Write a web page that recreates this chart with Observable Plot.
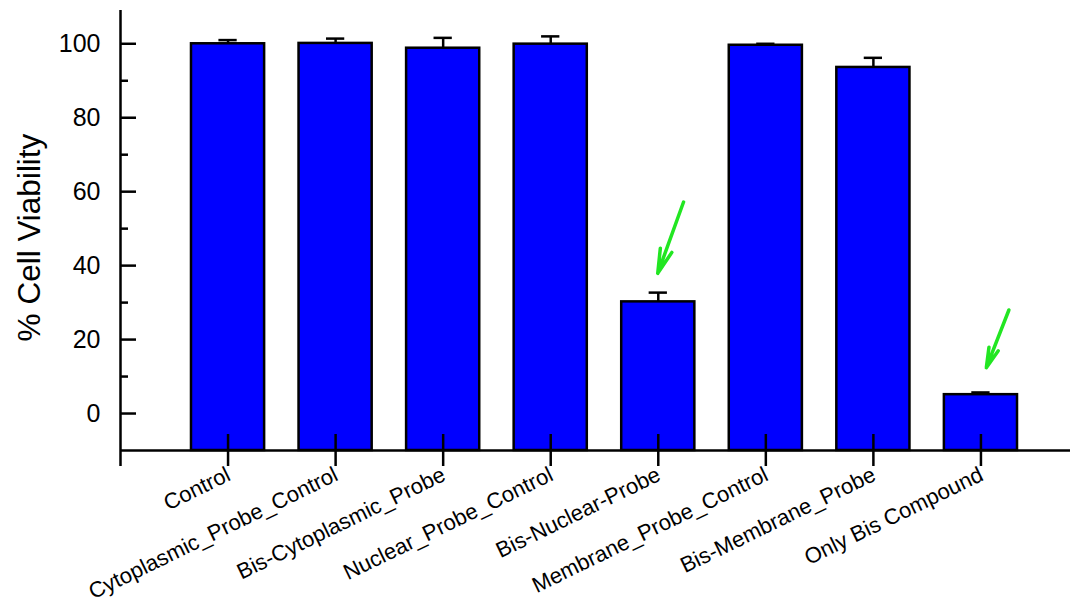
<!DOCTYPE html>
<html>
<head>
<meta charset="utf-8">
<script src="https://cdn.jsdelivr.net/npm/d3@7"></script>
<script src="https://cdn.jsdelivr.net/npm/@observablehq/plot@0.6"></script>
<style>
  html, body { margin: 0; padding: 0; background: #fff; }
  #chart svg { display: block; }
</style>
</head>
<body>
<div id="chart"></div>
<script>
const categories = [
  "Control",
  "Cytoplasmic_Probe_Control",
  "Bis-Cytoplasmic_Probe",
  "Nuclear_Probe_Control",
  "Bis-Nuclear-Probe",
  "Membrane_Probe_Control",
  "Bis-Membrane_Probe",
  "Only Bis Compound"
];
const viability = [100.0, 100.1, 98.8, 99.9, 30.2, 99.6, 93.6, 5.1];
const errors = [1.0, 1.3, 2.8, 2.1, 2.5, 0.4, 2.6, 0.6];
const yMajorTicks = [0, 20, 40, 60, 80, 100];
const yMinorTicks = [10, 30, 50, 70, 90];
const yLabel = "% Cell Viability";
// arrows (x in category index units, y in % units)
const arrowX1 = [4.235, 7.26];
const arrowY1 = [57.2, 28.0];
const arrowX2 = [3.995, 7.05];
const arrowY2 = [37.9, 12.4];

const data = categories.map((name, i) => ({i, name, v: viability[i], e: errors[i]}));
const arrows = arrowX1.map((x, k) => ({x1: x, y1: arrowY1[k], x2: arrowX2[k], y2: arrowY2[k]}));
const idx = categories.map((_, i) => i);

const font = "'Liberation Sans', Arial, Helvetica, sans-serif";
const sw = 2.5;

const chart = Plot.plot({
  width: 1070,
  height: 607,
  marginLeft: 120,
  marginRight: 0,
  marginTop: 10,
  marginBottom: 157,
  style: {fontFamily: font, color: "black", background: "white", overflow: "hidden"},
  x: {type: "linear", domain: [-1, 8], range: [120, 1088]},
  y: {domain: [-10, 109]},
  marks: [
    Plot.rectY(data, {
      x1: d => d.i - 0.34, x2: d => d.i + 0.34,
      y1: -10, y2: "v",
      fill: "#0000ff", stroke: "black", strokeWidth: sw
    }),
    Plot.ruleX(data, {x: "i", y1: "v", y2: d => d.v + d.e, stroke: "black", strokeWidth: sw}),
    Plot.ruleY(data, {y: d => d.v + d.e, x1: d => d.i - 0.085, x2: d => d.i + 0.085, stroke: "black", strokeWidth: sw}),
    Plot.ruleY([-10], {stroke: "black", strokeWidth: sw}),
    Plot.ruleX([-1], {y1: -10, y2: 109, stroke: "black", strokeWidth: sw}),
    Plot.axisX([-1, ...idx], {tickSize: 16, tickFormat: () => "", strokeWidth: sw, label: null}),
    Plot.axisX(idx, {tickSize: -16, tickFormat: () => "", strokeWidth: sw, label: null}),
    Plot.axisY(yMajorTicks, {tickSize: -16, tickPadding: 36, fontSize: 25, strokeWidth: sw, label: null}),
    Plot.axisY(yMinorTicks, {tickSize: -8, tickFormat: () => "", strokeWidth: sw, label: null}),
    Plot.text(data, {
      x: "i", y: -10, text: "name",
      rotate: -26, textAnchor: "end", lineAnchor: "top",
      dx: -3, dy: 15, fontSize: 22, fill: "black"
    }),
    Plot.text([yLabel], {
      frameAnchor: "left", rotate: -90, dx: -91, dy: 7,
      fontSize: 31.5, fill: "black", textAnchor: "middle", lineAnchor: "middle"
    }),
    Plot.arrow(arrows, {
      x1: "x1", y1: "y1", x2: "x2", y2: "y2",
      stroke: "#22e622", strokeWidth: 3.5, headLength: 20, headAngle: 28
    })
  ]
});
document.getElementById("chart").appendChild(chart);
</script>
</body>
</html>
